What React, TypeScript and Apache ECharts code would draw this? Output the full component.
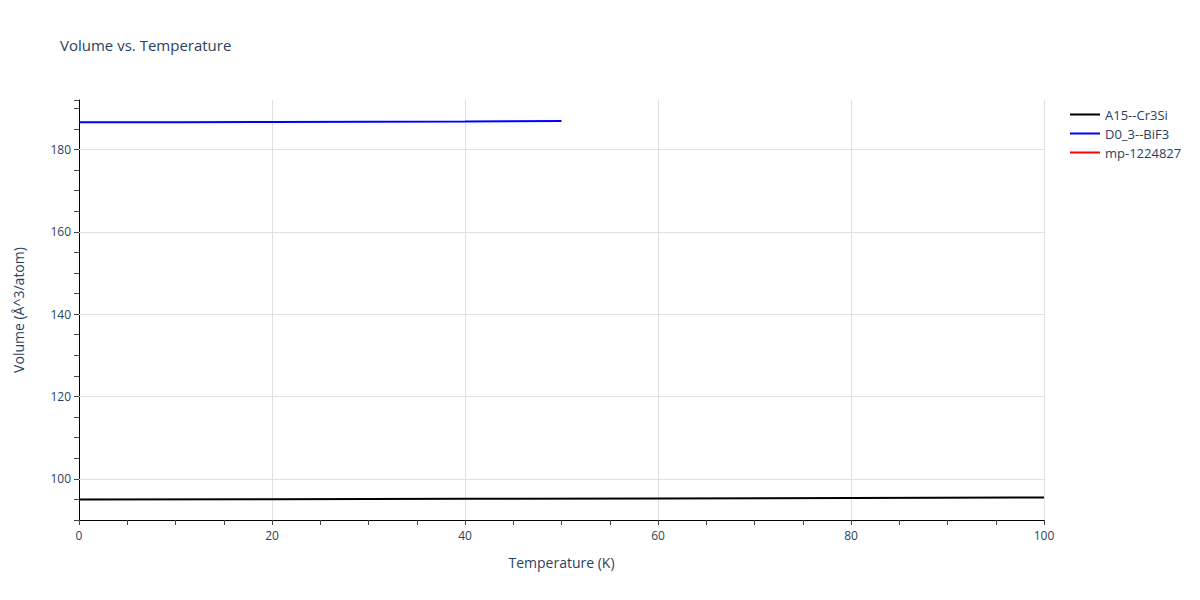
import { useEffect, useRef } from 'react'
import * as echarts from 'echarts'

// Volume vs. Temperature · plotly-like look

const FONT = '"Open Sans", verdana, arial, sans-serif'
const TEXT_COLOR = '#2a3f5f'
const GRID_COLOR = '#e0e0e0'

const SERIES_NAMES = ['A15--Cr3Si', 'D0_3--BiF3', 'mp-1224827']
const SERIES_COLORS = ['#000000', '#0000ff', '#ff0000']

// A15--Cr3Si
const CR3SI_T = [0, 20, 40, 60, 80, 100]
const CR3SI_V = [94.97, 95.05, 95.14, 95.24, 95.34, 95.45]

// D0_3--BiF3
const BIF3_T = [0, 10, 20, 30, 40, 50]
const BIF3_V = [186.57, 186.6, 186.64, 186.7, 186.78, 186.88]

// mp-1224827 (nothing visible in the plot)
const MP_T: number[] = []
const MP_V: number[] = []

// horizontal grid lines / labelled y ticks
const Y_GRID = [100, 120, 140, 160, 180]

const pairs = (xs: number[], ys: number[]) => xs.map((x, i) => [x, ys[i]])

export default function App() {
  const ref = useRef<HTMLDivElement>(null)

  useEffect(() => {
    document.body.style.margin = '0'
    if (!ref.current) return
    const chart = echarts.init(ref.current, undefined, { renderer: 'svg' })

    const lineSeries = [
      pairs(CR3SI_T, CR3SI_V),
      pairs(BIF3_T, BIF3_V),
      pairs(MP_T, MP_V),
    ].map((data, idx) => ({
      name: SERIES_NAMES[idx],
      type: 'line' as const,
      data,
      symbol: 'none',
      lineStyle: { color: SERIES_COLORS[idx], width: 2 },
      itemStyle: { color: SERIES_COLORS[idx] },
      z: 3,
    }))

    // grid lines only at the labelled y values
    const gridSeries = {
      name: '__grid',
      type: 'line' as const,
      data: [],
      silent: true,
      z: 1,
      markLine: {
        silent: true,
        symbol: 'none',
        label: { show: false },
        lineStyle: { color: GRID_COLOR, width: 1, type: 'solid' as const },
        data: Y_GRID.map((v) => ({ yAxis: v })),
      },
    }

    chart.setOption({
      animation: false,
      backgroundColor: '#ffffff',
      textStyle: { fontFamily: FONT },
      title: {
        text: 'Volume vs. Temperature',
        left: 55,
        top: 32,
        textStyle: {
          color: TEXT_COLOR,
          fontSize: 15,
          fontWeight: 'normal',
          fontFamily: FONT,
        },
      },
      legend: {
        data: SERIES_NAMES,
        orient: 'vertical',
        left: 1065,
        top: 101,
        icon: 'rect',
        itemWidth: 30,
        itemHeight: 2,
        itemGap: 2,
        textStyle: { color: TEXT_COLOR, fontSize: 13, fontFamily: FONT, lineHeight: 17 },
      },
      grid: { left: 79, right: 156, top: 100, bottom: 80, containLabel: false },
      xAxis: {
        type: 'value',
        min: 0,
        max: 100,
        interval: 20,
        name: 'Temperature (K)',
        nameLocation: 'middle',
        nameGap: 35,
        nameTextStyle: { color: TEXT_COLOR, fontSize: 14, fontFamily: FONT },
        axisLine: { show: true, onZero: false, lineStyle: { color: '#000', width: 1 } },
        axisTick: { show: true, length: 5, lineStyle: { color: '#444' } },
        minorTick: { show: true, splitNumber: 4, length: 5, lineStyle: { color: '#444' } },
        axisLabel: { color: TEXT_COLOR, fontSize: 12, margin: 9, fontFamily: FONT },
        splitLine: { show: true, lineStyle: { color: GRID_COLOR, width: 1 } },
      },
      yAxis: {
        type: 'value',
        min: 90,
        max: 192,
        interval: 10,
        name: 'Volume (Å^3/atom)',
        nameLocation: 'middle',
        nameGap: 54,
        nameTextStyle: { color: TEXT_COLOR, fontSize: 14, fontFamily: FONT },
        axisLine: { show: true, onZero: false, lineStyle: { color: '#000', width: 1 } },
        axisTick: { show: true, length: 5, lineStyle: { color: '#444' } },
        minorTick: { show: true, splitNumber: 2, length: 5, lineStyle: { color: '#444' } },
        axisLabel: {
          color: TEXT_COLOR,
          fontSize: 12,
          margin: 8,
          fontFamily: FONT,
          formatter: (v: number) => (Y_GRID.includes(v) ? String(v) : ''),
        },
        splitLine: { show: false },
      },
      series: [gridSeries, ...lineSeries],
    })

    return () => chart.dispose()
  }, [])

  return <div ref={ref} style={{ width: 1200, height: 600 }} />
}
